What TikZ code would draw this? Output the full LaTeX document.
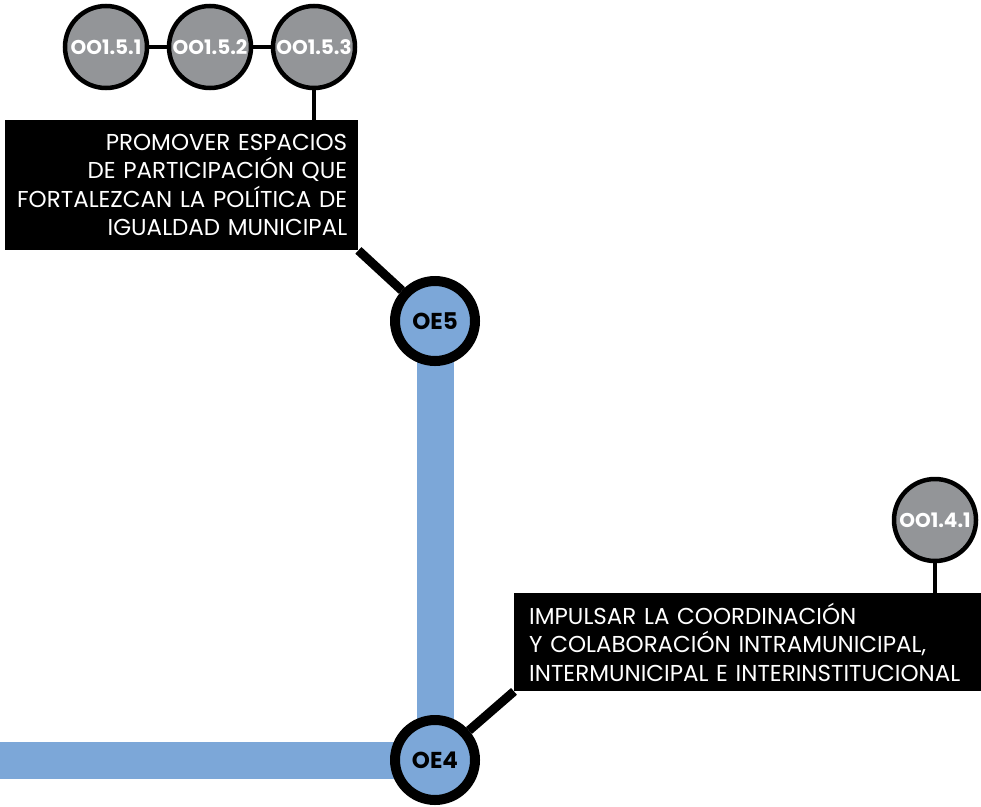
\documentclass[tikz,border=0pt]{standalone}
\usepackage{fontspec}
\setmainfont{Poppins}
\usetikzlibrary{backgrounds}
\definecolor{oeblue}{RGB}{124,167,216}
\definecolor{oogray}{RGB}{147,149,152}

\begin{document}
\begin{tikzpicture}[
   x=1pt, y=-1pt,
   oe/.style={circle, draw=black, line width=10pt, fill=oeblue,
      minimum size=80pt, inner sep=0pt, font=\fontsize{23}{23}\selectfont\bfseries},
   oo/.style={circle, draw=black, line width=4.5pt, fill=oogray, text=white,
      minimum size=82pt, inner sep=0pt, font=\fontsize{20}{20}\selectfont\bfseries},
   goal/.style={fill=black, text=white, inner ysep=0pt,
      font=\fontsize{23}{28.5}\selectfont},
   link/.style={line width=4.5pt},
   spoke/.style={line width=9pt},
   track/.style={draw=oeblue, line width=37pt}
]
\useasboundingbox (0,0) rectangle (981,806);

% objetivos especificos
\node[oe] (oe5) at (435,321) {OE5};
\node[oe] (oe4) at (435,760) {OE4};

% objetivos operativos
\node[oo] (oo151) at (106,47) {OO1.5.1};
\node[oo] (oo152) at (210,47) {OO1.5.2};
\node[oo] (oo153) at (314,47) {OO1.5.3};
\node[oo] (oo141) at (935,520) {OO1.4.1};

\node[goal, anchor=north west, minimum width=353pt, minimum height=130pt,
      text width=331pt, inner xsep=11pt, align=right] (goal5) at (5,120)
   {PROMOVER ESPACIOS\\ DE PARTICIPACIÓN QUE\\ FORTALEZCAN LA POLÍTICA DE\\ IGUALDAD MUNICIPAL};
\node[goal, anchor=north west, minimum width=463pt, minimum height=98pt,
      text width=440pt, inner xsep=15pt, align=left] (goal4) at (514,593)
   {IMPULSAR LA COORDINACIÓN\\ Y COLABORACIÓN INTRAMUNICIPAL,\\ INTERMUNICIPAL E INTERINSTITUCIONAL};

\begin{scope}[on background layer]
   \draw[track] (0,760) -- (oe4.center);
   \draw[track] (oe5.center) -- (oe4.center);
   \draw[link] (oo151) -- (oo152) -- (oo153);
   \draw[link] (oo153) -- (oo153 |- goal5.north);
   \draw[link] (oo141) -- (oo141 |- goal4.north);
   \draw[spoke] (goal5.south east) -- (oe5);
   \draw[spoke] (goal4.south west) -- (oe4);
\end{scope}
\end{tikzpicture}
\end{document}
